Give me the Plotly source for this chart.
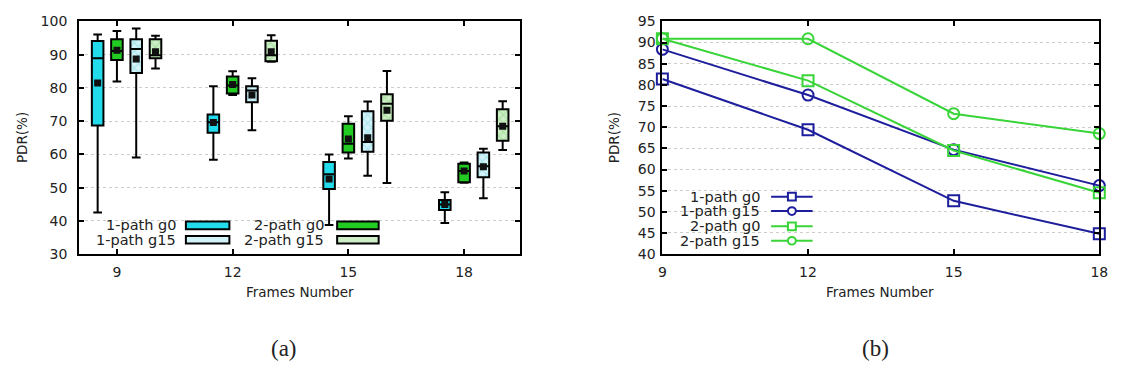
import plotly.graph_objects as go

W, H = 1136, 379

# ---------------- data ----------------
frames = [9, 12, 15, 18]
series_names = ["1-path g0", "2-path g0", "1-path g15", "2-path g15"]

# panel (a): box statistics per series (one value per frame)
p1g0_low = [42.5, 58.4, 38.8, 39.4]
p1g0_q1 = [68.7, 66.5, 49.6, 43.3]
p1g0_med = [88.9, 69.7, 54.0, 44.9]
p1g0_q3 = [94.1, 72.0, 57.7, 46.3]
p1g0_high = [96.1, 80.5, 60.0, 48.6]
p1g0_mean = [81.5, 69.6, 52.6, 44.9]

p2g0_low = [81.9, 77.9, 58.8, 51.5]
p2g0_q1 = [88.4, 78.3, 60.6, 51.6]
p2g0_med = [91.1, 80.7, 63.2, 55.0]
p2g0_q3 = [94.6, 83.4, 69.2, 57.2]
p2g0_high = [97.1, 85.0, 71.5, 57.6]
p2g0_mean = [91.3, 81.0, 64.6, 55.0]

p1g15_low = [59.1, 67.3, 53.6, 46.8]
p1g15_q1 = [84.5, 75.7, 60.8, 53.1]
p1g15_med = [91.7, 79.2, 63.7, 56.4]
p1g15_q3 = [94.6, 80.5, 73.0, 60.6]
p1g15_high = [97.9, 82.9, 75.9, 61.7]
p1g15_mean = [88.7, 77.9, 65.0, 56.3]

p2g15_low = [85.8, 87.9, 51.4, 61.3]
p2g15_q1 = [88.9, 88.0, 70.1, 64.1]
p2g15_med = [89.8, 89.8, 75.2, 68.5]
p2g15_q3 = [94.6, 94.2, 78.1, 73.6]
p2g15_high = [95.7, 95.8, 85.1, 76.0]
p2g15_mean = [90.9, 90.9, 73.3, 68.5]

# panel (b): mean PDR lines
line_p1g0 = [81.4, 69.4, 52.6, 44.8]
line_p1g15 = [88.4, 77.6, 64.7, 56.2]
line_p2g0 = [90.9, 81.0, 64.5, 54.5]
line_p2g15 = [90.9, 90.9, 73.2, 68.5]

y_ticks_a = [30, 40, 50, 60, 70, 80, 90, 100]
y_ticks_b = [40, 45, 50, 55, 60, 65, 70, 75, 80, 85, 90, 95]

# ---------------- styling ----------------
CYAN = "#22dcec"
GREEN = "#22cc22"
LCYAN = "#d2f3f8"
LGREEN = "#cdeec6"
BLUE = "#1e1e9c"
LGRN = "#38d438"
TXT = "#222222"
FONT = "DejaVu Sans"

def px(x):
    return x / W

def py(y):
    return 1 - y / H

fig = go.Figure()

box_sets = [
    ("1-path g0", -0.5, CYAN, None, p1g0_low, p1g0_q1, p1g0_med, p1g0_q3, p1g0_high, p1g0_mean),
    ("2-path g0", 0.0, GREEN, None, p2g0_low, p2g0_q1, p2g0_med, p2g0_q3, p2g0_high, p2g0_mean),
    ("1-path g15", 0.5, LCYAN, "#7fd3e3", p1g15_low, p1g15_q1, p1g15_med, p1g15_q3, p1g15_high, p1g15_mean),
    ("2-path g15", 1.0, LGREEN, "#84cf7a", p2g15_low, p2g15_q1, p2g15_med, p2g15_q3, p2g15_high, p2g15_mean),
]
BW = 0.3
for name, off, col, pat, low, q1, med, q3, high, mean in box_sets:
    xs = [f + off for f in frames]
    marker = dict(color=col, line=dict(width=0))
    if pat:
        marker["pattern"] = dict(shape="x", fgcolor=pat, size=6, solidity=0.35, fillmode="overlay")
    fig.add_trace(go.Bar(
        x=xs, y=[b - a for a, b in zip(q1, q3)], base=q1, width=BW,
        marker=marker, xaxis="x", yaxis="y", showlegend=False, hoverinfo="skip"))
    fig.add_trace(go.Box(
        x=xs, q1=q1, median=med, q3=q3, lowerfence=low, upperfence=high,
        width=BW, whiskerwidth=0.75, fillcolor="rgba(0,0,0,0)",
        line=dict(color="black", width=2), boxpoints=False,
        xaxis="x", yaxis="y", showlegend=False, name=name))
    fig.add_trace(go.Scatter(
        x=xs, y=mean, mode="markers",
        marker=dict(symbol="square", size=7, color="#111111"),
        xaxis="x", yaxis="y", showlegend=False, hoverinfo="skip"))

line_sets = [
    ("1-path g0", BLUE, "square-open", line_p1g0),
    ("1-path g15", BLUE, "circle-open", line_p1g15),
    ("2-path g0", LGRN, "square-open", line_p2g0),
    ("2-path g15", LGRN, "circle-open", line_p2g15),
]
for name, col, sym, vals in line_sets:
    fig.add_trace(go.Scatter(
        x=frames, y=vals, mode="lines+markers", name=name,
        line=dict(color=col, width=2),
        marker=dict(symbol=sym, size=11, color=col, line=dict(color=col, width=2)),
        cliponaxis=False, xaxis="x2", yaxis="y2", showlegend=False))

axis_common = dict(
    showline=True, linecolor="black", linewidth=2, mirror="allticks",
    ticks="inside", ticklen=5, tickwidth=1.5, tickcolor="black",
    tickfont=dict(family=FONT, size=14, color=TXT), zeroline=False,
)

fig.update_layout(
    width=W, height=H, margin=dict(l=0, r=0, t=0, b=0),
    paper_bgcolor="white", plot_bgcolor="white",
    barmode="overlay", boxmode="overlay", showlegend=False,
    xaxis=dict(domain=[px(76), px(522)], range=[8.02, 19.45], tickvals=frames,
               showgrid=False, anchor="y", ticklabelstandoff=4, **axis_common),
    yaxis=dict(domain=[py(257), py(14)], range=[30, 100], tickvals=y_ticks_a,
               showgrid=True, gridcolor="#cccccc", griddash="dot", gridwidth=1,
               anchor="x", ticklabelstandoff=7, **axis_common),
    xaxis2=dict(domain=[px(666), px(1108)], range=[9, 18], tickvals=frames,
                showgrid=False, anchor="y2", ticklabelstandoff=4, **axis_common),
    yaxis2=dict(domain=[py(257), py(14)], range=[40, 95], tickvals=y_ticks_b,
                showgrid=True, gridcolor="#cccccc", griddash="dot", gridwidth=1,
                anchor="x2", ticklabelstandoff=2, **axis_common),
)

ann = []
shapes = []
tfont = dict(family=FONT, size=13.5, color=TXT)

def text_at(x, y, text, font, xanchor="center", angle=0):
    ann.append(dict(x=px(x), y=py(y), xref="paper", yref="paper", text=text,
                    xanchor=xanchor, yanchor="middle", textangle=angle,
                    showarrow=False, font=font))

# axis titles
text_at(299, 297, "Frames Number", tfont)
text_at(886, 297, "Frames Number", tfont)
text_at(19, 135, "PDR(%)", tfont, angle=-90)
text_at(617, 135, "PDR(%)", tfont, angle=-90)
# sub-captions
capfont = dict(family="Liberation Serif", size=23, color=TXT)
text_at(283, 356, "(a)", capfont)
text_at(882, 356, "(b)", capfont)

legfont = dict(family=FONT, size=14.5, color=TXT)
# legend (a)
leg_a = [
    ("1-path g0", 176, 227, 184, 228, CYAN),
    ("1-path g15", 176, 242, 184, 228, LCYAN),
    ("2-path g0", 326, 227, 337, 379, GREEN),
    ("2-path g15", 326, 242, 337, 379, LGREEN),
]
for name, tx, ty, x0, x1, col in leg_a:
    text_at(tx, ty, name, legfont, xanchor="right")
    shapes.append(dict(type="rect", xref="paper", yref="paper",
                       x0=px(x0), x1=px(x1), y0=py(ty + 4), y1=py(ty - 4),
                       fillcolor=col, line=dict(color="black", width=2)))

# legend (b)
leg_b_rows = [197, 212, 228, 243]
for (name, col, sym, _), ry in zip(line_sets, leg_b_rows):
    text_at(767, ry, name, legfont, xanchor="right")
    shapes.append(dict(type="line", xref="paper", yref="paper",
                       x0=px(776), x1=px(818), y0=py(ry), y1=py(ry),
                       line=dict(color=col, width=2)))
    shapes.append(dict(type="rect" if "square" in sym else "circle",
                       xref="paper", yref="paper",
                       x0=px(793), x1=px(801), y0=py(ry + 4), y1=py(ry - 4),
                       fillcolor="white", line=dict(color=col, width=2)))

fig.update_layout(annotations=ann, shapes=shapes)
fig.write_html("out.html")
